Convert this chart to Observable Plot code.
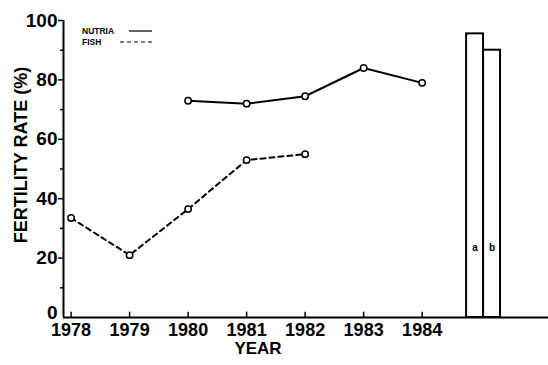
<!DOCTYPE html>
<html>
<head>
<meta charset="utf-8">
<script src="https://cdn.jsdelivr.net/npm/d3@7"></script>
<script src="https://cdn.jsdelivr.net/npm/@observablehq/plot@0.6"></script>
<style>
  html, body { margin: 0; padding: 0; background: #fff; }
  #chart { position: relative; width: 548px; height: 365px; }
  #legend { position: absolute; left: 0; top: 0; pointer-events: none; }
  svg text { font-family: "Liberation Sans", Arial, sans-serif; }
</style>
</head>
<body>
<div id="chart"></div>
<script>
// Fertility rate by year
const years = [1978, 1979, 1980, 1981, 1982, 1983, 1984];
const nutriaYears = [1980, 1981, 1982, 1983, 1984];
const nutriaRate = [73, 72, 74.5, 84, 79];
const fishYears = [1978, 1979, 1980, 1981, 1982];
const fishRate = [33.5, 21, 36.5, 53, 55];

// Side bars (a, b)
const barLabels = ["a", "b"];
const barValues = [95.5, 90];

const yMajor = [20, 40, 60, 80, 100];
const yZero = [0];
const yMinor = [10, 30, 50, 70, 90];

const legendItems = [
  {name: "NUTRIA", dash: null},
  {name: "FISH", dash: "4,3"}
];

const nutria = nutriaYears.map((year, i) => ({year, rate: nutriaRate[i]}));
const fish = fishYears.map((year, i) => ({year, rate: fishRate[i]}));

// bars sit just past the last year on the same x scale
const barStart = 1984.76, barWidth = 0.29;
const bars = barLabels.map((label, i) => ({
  label,
  value: barValues[i],
  x1: barStart + i * barWidth,
  x2: barStart + (i + 1) * barWidth
}));

const xDomain = [1977.87, 1986.16];
const font = "Liberation Sans, Arial, sans-serif";

const chart = Plot.plot({
  width: 548,
  height: 365,
  marginLeft: 63,
  marginRight: 0,
  marginTop: 20,
  marginBottom: 48,
  style: {fontFamily: font, background: "#fff", color: "#000"},
  x: {domain: xDomain},
  y: {domain: [0, 100]},
  marks: [
    Plot.axisY(yMajor, {
      tickSize: 5, tickPadding: 1, fontSize: 19, fontWeight: "bold",
      strokeWidth: 1.5, label: null
    }),
    // the zero label sits a little above the baseline
    Plot.axisY(yZero, {
      tickSize: 0, tickPadding: 6, fontSize: 19, fontWeight: "bold",
      label: null, dy: -5
    }),
    Plot.axisY(yMinor, {tickSize: 3, strokeWidth: 1.5, tickFormat: () => "", label: null}),
    Plot.axisX(years, {
      tickSize: 0, tickPadding: 6, fontSize: 18, fontWeight: "bold",
      tickFormat: d => String(d), label: null
    }),
    // year ticks point up from the baseline
    Plot.ruleX(years, {x: d => d, y1: 0, y2: 1.8, strokeWidth: 1.5}),
    Plot.ruleX([xDomain[0]], {strokeWidth: 2}),
    Plot.ruleY([0], {strokeWidth: 2}),
    Plot.rect(bars, {x1: "x1", x2: "x2", y1: 0, y2: "value", fill: "#fff", stroke: "#000", strokeWidth: 2}),
    Plot.text(bars, {x: d => (d.x1 + d.x2) / 2, y: 23.5, text: "label", fontSize: 10, fontWeight: "bold"}),
    Plot.line(nutria, {x: "year", y: "rate", stroke: "#000", strokeWidth: 2}),
    Plot.line(fish, {x: "year", y: "rate", stroke: "#000", strokeWidth: 2, strokeDasharray: "5,4"}),
    Plot.dot(nutria, {x: "year", y: "rate", r: 3.2, fill: "#fff", stroke: "#000", strokeWidth: 1.5}),
    Plot.dot(fish, {x: "year", y: "rate", r: 3.2, fill: "#fff", stroke: "#000", strokeWidth: 1.5}),
    Plot.text(["FERTILITY RATE (%)"], {
      frameAnchor: "left", textAnchor: "middle", dx: -42, dy: -14, rotate: -90,
      fontSize: 18, fontWeight: "bold"
    }),
    Plot.text(["YEAR"], {
      frameAnchor: "bottom", dx: -48, dy: 36,
      fontSize: 17, fontWeight: "bold"
    })
  ]
});

const host = document.getElementById("chart");
host.appendChild(chart);

// legend drawn over the top-left of the plot area
const legend = d3.select(host).append("svg")
  .attr("id", "legend")
  .attr("width", 548)
  .attr("height", 60);
const rows = legend.selectAll("g").data(legendItems).join("g")
  .attr("transform", (d, i) => `translate(82, ${31 + i * 11})`);
rows.append("text")
  .attr("y", 3)
  .attr("font-size", 8.5)
  .attr("font-weight", "bold")
  .attr("font-family", font)
  .text(d => d.name);
rows.append("line")
  .attr("x1", (d, i) => i === 0 ? 47 : 38)
  .attr("x2", 70)
  .attr("y1", 0).attr("y2", 0)
  .attr("stroke", "#000")
  .attr("stroke-width", 1.2)
  .attr("stroke-dasharray", d => d.dash);
</script>
</body>
</html>
